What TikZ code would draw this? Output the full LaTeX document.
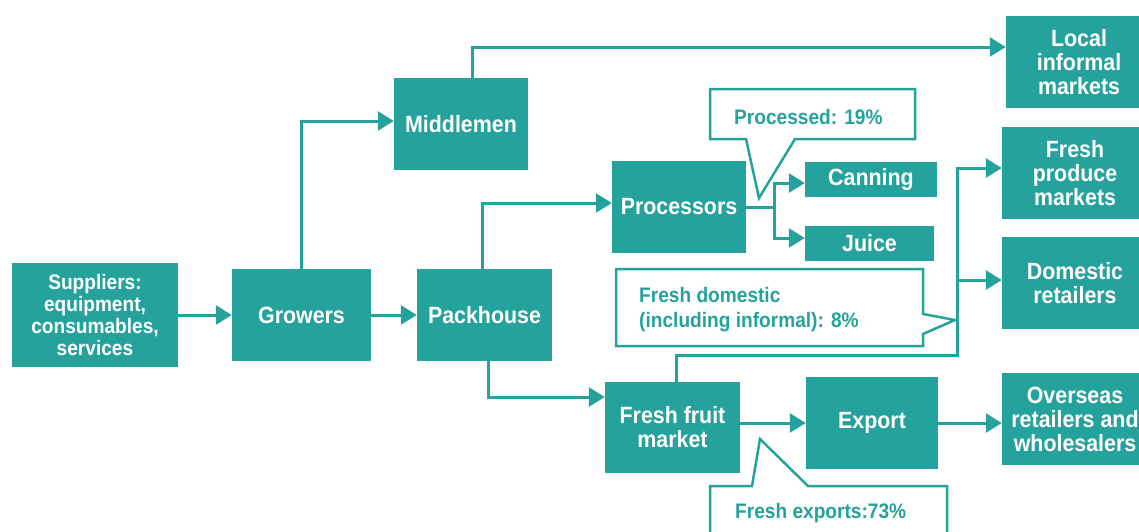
\documentclass[tikz,border=0pt]{standalone}
\usepackage{fontspec}
\setmainfont{Liberation Sans}[FakeStretch=0.91]
\usetikzlibrary{arrows.meta,calc}
\definecolor{teal1}{HTML}{26A29D}
\begin{document}
\begin{tikzpicture}[x=1pt,y=-1pt,
  box/.style={fill=teal1, text=white, font=\bfseries\fontsize{23.5}{24}\selectfont, align=center, inner sep=0pt},
  smallbox/.style={box, font=\bfseries\fontsize{21}{21.7}\selectfont},
  arr/.style={draw=teal1, line width=3pt, -{Triangle[length=16pt,width=19pt]}},
  ln/.style={draw=teal1, line width=3pt},
  callout/.style={draw=teal1, line width=2.5pt, fill=white},
  ctext/.style={text=teal1, font=\bfseries\fontsize{21}{25}\selectfont, align=left, inner sep=0pt}]
\useasboundingbox (0,0) rectangle (1139,531);

% boxes
\node[smallbox, minimum width=166pt, minimum height=104pt] (sup) at (95,315) {Suppliers:\\equipment,\\consumables,\\services};
\node[box, minimum width=139pt, minimum height=92pt] (gro) at (301.5,315) {Growers};
\node[box, minimum width=135pt, minimum height=92pt] (pack) at (484.5,315) {Packhouse};
\node[box, minimum width=134pt, minimum height=92pt] (mid) at (461,124) {Middlemen};
\node[box, minimum width=134pt, minimum height=92pt] (proc) at (679,207) {Processors};
\node[box, minimum width=132pt, minimum height=35pt] (can) at (871,179.5) {Canning};
\node[box, minimum width=129pt, minimum height=35pt] (juice) at (869.5,243.5) {Juice};
\node[box, minimum width=135pt, minimum height=91pt] (ffm) at (672.5,427.5) {Fresh fruit\\market};
\node[box, minimum width=132pt, minimum height=92pt] (exp) at (872,423) {Export};
\node[box, minimum width=146pt, minimum height=92pt] (loc) at (1079,62) {Local\\informal\\markets};
\node[box, minimum width=146pt, minimum height=92pt] (fpm) at (1075,173) {Fresh\\produce\\markets};
\node[box, minimum width=146pt, minimum height=92pt] (dom) at (1075,283) {Domestic\\retailers};
\node[box, minimum width=146pt, minimum height=92pt] (ovs) at (1075,419) {Overseas\\retailers and\\wholesalers};

% callouts
\draw[callout] (710,89) -- (915,89) -- (915,139) -- (795,139) -- (759,198) -- (746,139) -- (710,139) -- cycle;
\node[ctext, anchor=base west] (cproc) at (734,124) {Processed: 19\%};
\draw[callout] (616,269) -- (923,269) -- (923,314) -- (955,320) -- (923,334) -- (923,346) -- (616,346) -- cycle;
\node[ctext, anchor=west] (cdom) at (639,310) {Fresh domestic\\(including informal): 8\%};
\draw[callout] (710,545) -- (710,486) -- (752,486) -- (760,439) -- (808,486) -- (947,486) -- (947,545);
\node[ctext, anchor=base west] (cexp) at (735,518) {Fresh exports:73\%};

% connectors
\draw[arr] (sup) -- (gro);
\draw[arr] (gro) -- (pack);
\draw[arr] (gro.north) |- ([yshift=3pt]mid.west);
\draw[arr] ([xshift=11pt]mid.north) |- ([yshift=15pt]loc.west);
\draw[arr] ([xshift=-2pt]pack.north) |- ([yshift=4pt]proc.west);
\coordinate (pj) at ($(proc.east)+(28,0)$);
\draw[ln] (proc.east) -- (pj);
\draw[arr] (pj) |- ([yshift=-3.5pt]can.west);
\draw[arr] (pj) |- ([yshift=5.5pt]juice.west);
\draw[arr] ([xshift=3.5pt]pack.south) |- ([yshift=30.5pt]ffm.west);
\coordinate (tb) at (957,355);
\coordinate (domin) at ([yshift=3pt]dom.west);
\draw[arr] ([xshift=3.5pt]ffm.north) |- (tb) |- ([yshift=5pt]fpm.west);
\draw[arr] (tb |- domin) -- (domin);
\draw[arr] (ffm.east |- exp.west) -- (exp.west);
\draw[arr] (exp.east) -- (exp.east -| ovs.west);
\end{tikzpicture}
\end{document}
